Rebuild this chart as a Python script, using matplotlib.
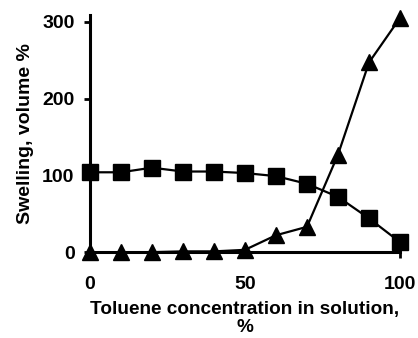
import matplotlib
matplotlib.use('Agg')
import matplotlib.pyplot as plt

x = [0, 10, 20, 30, 40, 50, 60, 70, 80, 90, 100]
squares = [104, 104, 110, 105, 105, 103, 99, 89, 72, 44, 13]
triangles = [0, 0, 0, 1, 1, 3, 22, 33, 127, 247, 305]

plt.rcParams['font.family'] = ['Liberation Sans', 'DejaVu Sans']
plt.rcParams['font.weight'] = 'bold'

fig = plt.figure(figsize=(4.18, 3.38), dpi=100)
ax = fig.add_axes([0.215, 0.254, 0.742, 0.702])

ax.plot(x, squares, 'k-', marker='s', markersize=11, lw=1.6, clip_on=False, zorder=3)
ax.plot(x, triangles, 'k-', marker='^', markersize=12, lw=1.6, clip_on=False, zorder=3)

ax.set_xlim(0, 100)
ax.set_ylim(0, 309)
ax.set_xticks([0, 50, 100])
ax.set_yticks([0, 100, 200, 300])
for s in ['top', 'right']:
    ax.spines[s].set_visible(False)
for s in ['left', 'bottom']:
    ax.spines[s].set_linewidth(2.2)
ax.tick_params(axis='both', direction='out', width=2, length=4, labelsize=14)
ax.tick_params(axis='x', pad=13)
ax.tick_params(axis='y', pad=7)

ax.set_xlabel('Toluene concentration in solution,\n%', fontsize=13.7, fontweight='bold',
              linespacing=1.1, labelpad=6)
ax.set_ylabel('Swelling, volume %', fontsize=14, fontweight='bold', labelpad=6)

fig.savefig('out.png', dpi=100)
